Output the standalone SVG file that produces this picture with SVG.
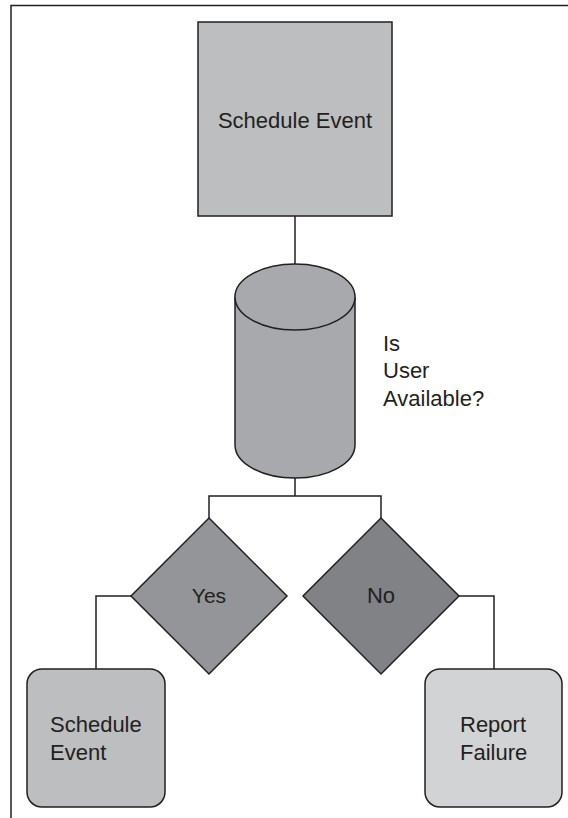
<svg xmlns="http://www.w3.org/2000/svg" width="568" height="818" viewBox="0 0 568 818">
<style>
.s{stroke:#231f20;stroke-width:1.5}
.c{fill:none;stroke:#231f20;stroke-width:1.5}
text{font-family:"Liberation Sans",Arial,sans-serif;font-size:22px;fill:#231f20}
.m{text-anchor:middle}
</style>
<rect width="568" height="818" fill="#ffffff"/>
<g id="frame">
<path class="c" d="M11,818 V5.5 H568"/>
</g>
<g id="connectors">
<path class="c" d="M295,216 V264"/>
<path class="c" d="M295,478 V496 M209,518 V496 H381 V518"/>
<path class="c" d="M131,596 H96 V669"/>
<path class="c" d="M459,596 H494 V669"/>
</g>
<g id="schedule-event-top">
<rect class="s" x="198" y="22" width="194" height="194" fill="#bcbec0"/>
<text class="m" x="295" y="128">Schedule Event</text>
</g>
<g id="is-user-available">
<path class="s" fill="#a7a9ac" d="M235,297 V445 A60,33 0 0 0 355,445 V297"/>
<ellipse class="s" cx="295" cy="297" rx="60" ry="33" fill="#a7a9ac"/>
<text x="383" y="351">Is</text>
<text x="383" y="378">User</text>
<text x="383" y="406">Available?</text>
</g>
<g id="yes">
<polygon class="s" points="209,518 287,596 209,674 131,596" fill="#939598"/>
<text class="m" x="209" y="603" style="font-size:21px">Yes</text>
</g>
<g id="no">
<polygon class="s" points="381,518 459,596 381,674 303,596" fill="#808285"/>
<text class="m" x="381" y="603">No</text>
</g>
<g id="schedule-event-bottom">
<rect class="s" x="27" y="669" width="138" height="138" rx="15" fill="#bcbec0"/>
<text x="50" y="732">Schedule</text>
<text x="50" y="760">Event</text>
</g>
<g id="report-failure">
<rect class="s" x="425" y="669" width="137" height="138" rx="15" fill="#d1d3d4"/>
<text x="460" y="732">Report</text>
<text x="460" y="760">Failure</text>
</g>
</svg>
